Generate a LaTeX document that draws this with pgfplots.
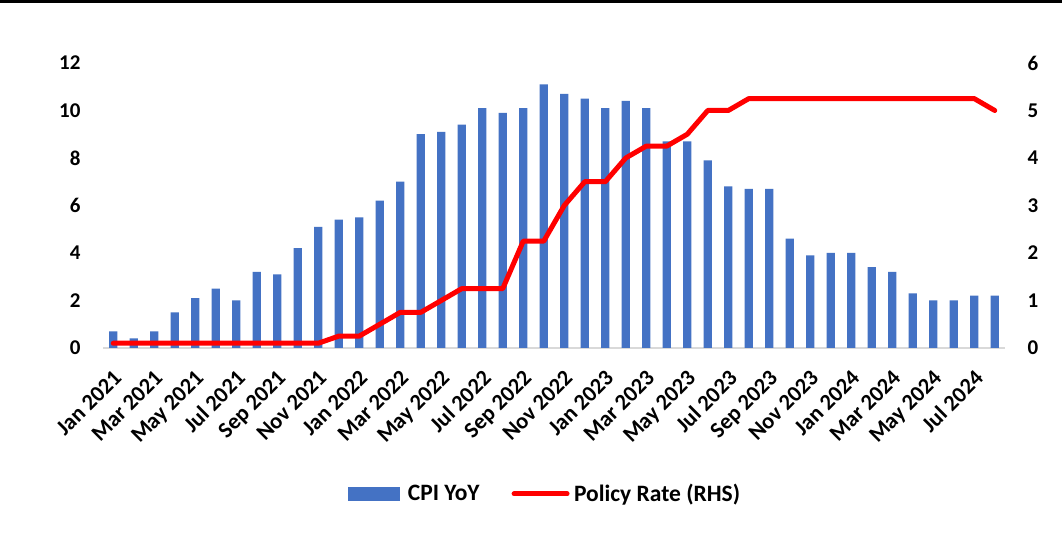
\documentclass[border=0pt]{standalone}
\usepackage{pgfplots}
\pgfplotsset{compat=1.18}
\usepackage{pgfplotstable}
\usepackage{fontspec}
\setmainfont{Carlito}
\definecolor{barblue}{HTML}{4472C4}
\definecolor{linered}{HTML}{FF0000}
\pgfplotstableread{
x cpi rate
0 0.7 0.1
1 0.4 0.1
2 0.7 0.1
3 1.5 0.1
4 2.1 0.1
5 2.5 0.1
6 2.0 0.1
7 3.2 0.1
8 3.1 0.1
9 4.2 0.1
10 5.1 0.1
11 5.4 0.25
12 5.5 0.25
13 6.2 0.5
14 7.0 0.75
15 9.0 0.75
16 9.1 1.0
17 9.4 1.25
18 10.1 1.25
19 9.9 1.25
20 10.1 2.25
21 11.1 2.25
22 10.7 3.0
23 10.5 3.5
24 10.1 3.5
25 10.4 4.0
26 10.1 4.25
27 8.7 4.25
28 8.7 4.5
29 7.9 5.0
30 6.8 5.0
31 6.7 5.25
32 6.7 5.25
33 4.6 5.25
34 3.9 5.25
35 4.0 5.25
36 4.0 5.25
37 3.4 5.25
38 3.2 5.25
39 2.3 5.25
40 2.0 5.25
41 2.0 5.25
42 2.2 5.25
43 2.2 5.0
}\datatable
\newcommand{\chartfont}{\fontsize{21bp}{25bp}\selectfont\bfseries}
\newcommand{\xfont}{\fontsize{22.5bp}{26bp}\selectfont\bfseries}
\newcommand{\legfont}{\fontsize{23.5bp}{28bp}\selectfont\bfseries}
\begin{document}
\begin{tikzpicture}[x=1bp,y=1bp]
\path[use as bounding box] (0,0) rectangle (1062,553);
\fill[white] (0,0) rectangle (1062,553);
\draw[line width=2.5bp] (0,551.5) -- (1062,551.5);
\begin{axis}[
  at={(103bp,205bp)}, anchor=south west,
  scale only axis, width=902bp, height=285bp,
  xmin=-0.5, xmax=43.5, ymin=0, ymax=12,
  enlargelimits=false,
  ybar, bar width=8.3bp,
  axis line style={draw=none},
  major tick length=0pt,
  ytick={0,2,...,12},
  xtick={0,2,...,42},
  xticklabels={Jan 2021,Mar 2021,May 2021,Jul 2021,Sep 2021,Nov 2021,Jan 2022,Mar 2022,May 2022,Jul 2022,Sep 2022,Nov 2022,Jan 2023,Mar 2023,May 2023,Jul 2023,Sep 2023,Nov 2023,Jan 2024,Mar 2024,May 2024,Jul 2024},
  /pgf/number format/assume math mode=true,
  yticklabel style={font=\chartfont, xshift=-19bp},
  xticklabel style={font=\xfont, yshift=-19bp, xshift=-1bp, rotate=45, anchor=north east, inner sep=1bp},
  clip=false,
]
\draw[gray!30, line width=1.5bp] (axis cs:-0.5,0) -- (axis cs:43.5,0);
\addplot[fill=barblue, draw=none] table[x=x, y=cpi] {\datatable};
\end{axis}
\begin{axis}[
  at={(103bp,205bp)}, anchor=south west,
  scale only axis, width=902bp, height=285bp,
  xmin=-0.5, xmax=43.5, ymin=0, ymax=6,
  enlargelimits=false,
  axis line style={draw=none},
  major tick length=0pt,
  hide x axis,
  yticklabel pos=right,
  ytick={0,1,...,6},
  /pgf/number format/assume math mode=true,
  yticklabel style={font=\chartfont, xshift=19bp},
  legend style={at={(0.49,-0.512)}, anchor=center, draw=none, fill=none,
    legend columns=2, font=\legfont,
    /tikz/every even column/.append style={column sep=30bp}},
  clip=false,
]
\addlegendimage{legend image code/.code={\fill[barblue, draw=none] (0bp,-7bp) rectangle (52bp,7bp); \path[draw=none, fill=none] (0bp,0bp) -- (58bp,0bp);}}
\addlegendentry{CPI YoY}
\addplot[linered, line width=5bp, line join=round, line cap=round, no marks,
  legend image code/.code={\draw[linered, line width=5bp, line cap=round] (0bp,0bp) -- (53bp,0bp); \path[draw=none, fill=none] (0bp,0bp) -- (58bp,0bp);}]
  table[x=x, y=rate] {\datatable};
\addlegendentry{Policy Rate (RHS)}
\end{axis}
\end{tikzpicture}
\end{document}
